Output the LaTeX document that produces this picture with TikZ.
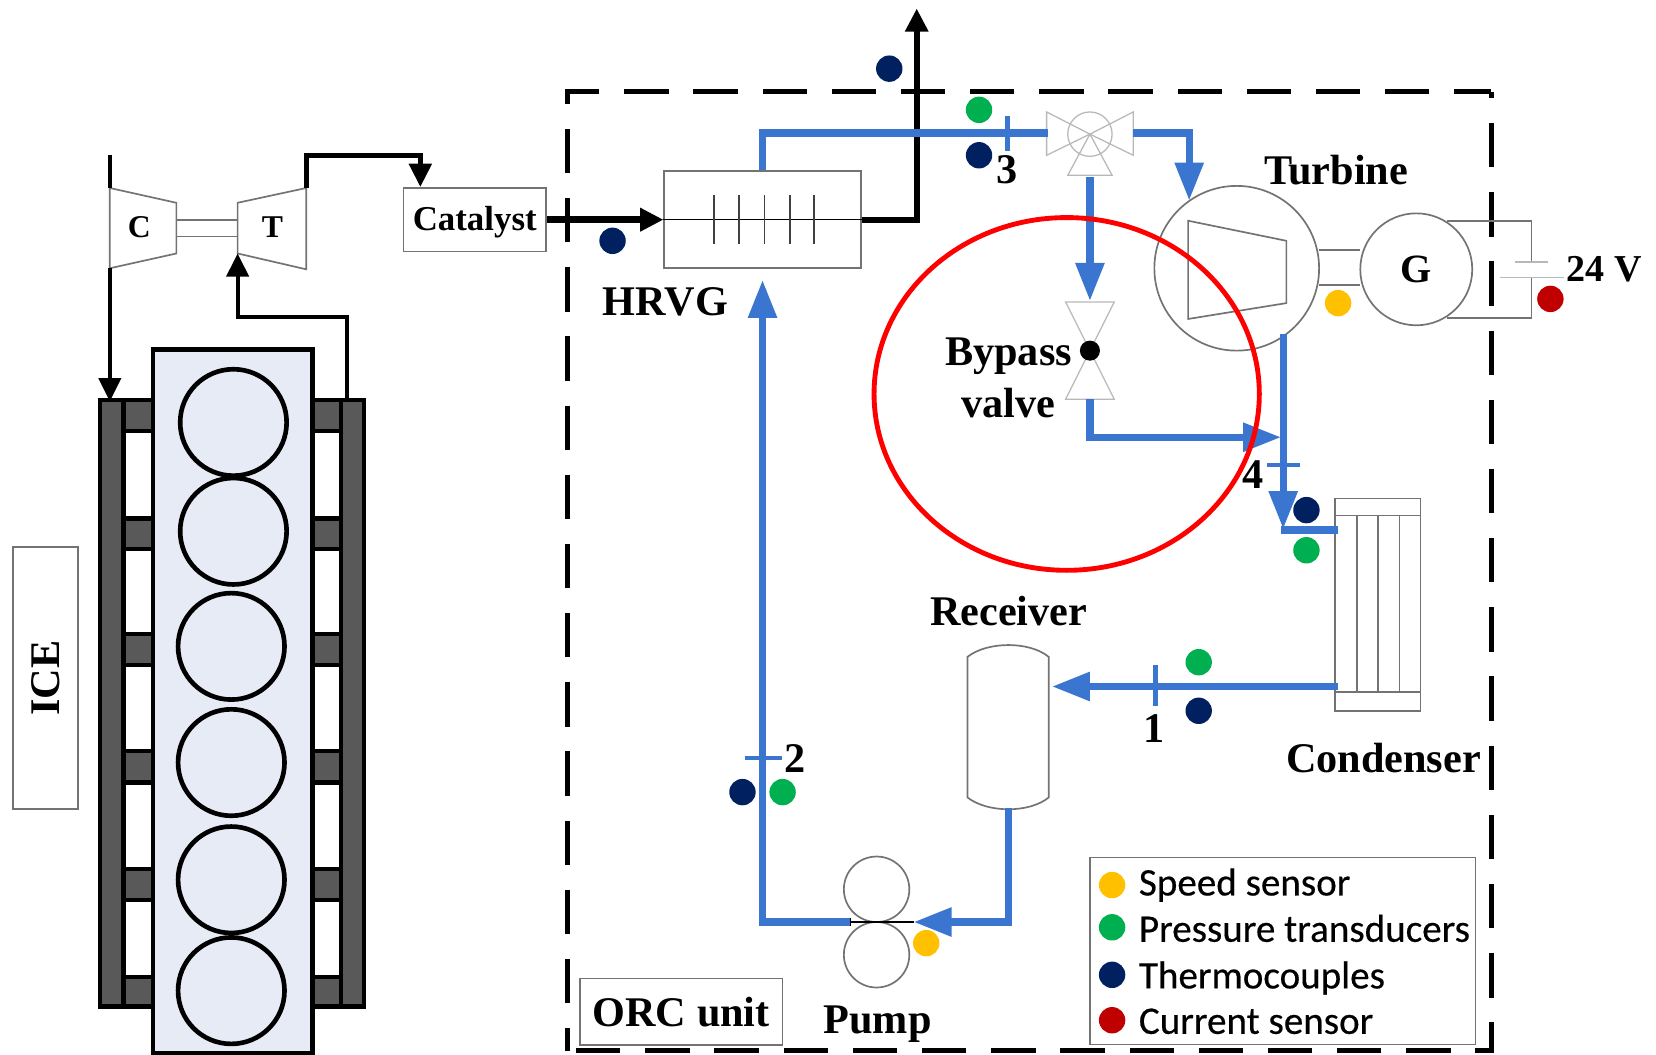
\documentclass[tikz,border=0pt]{standalone}
\usepackage{fontspec}
\setmainfont{Liberation Serif}
\newfontfamily\legendfont[FakeBold=0.4]{Carlito}
\usetikzlibrary{arrows.meta}
\definecolor{pipeblue}{HTML}{3A76D0}
\definecolor{bodyblue}{HTML}{E6EBF5}
\definecolor{railgray}{HTML}{595959}
\definecolor{speedcol}{HTML}{FFC000}
\definecolor{presscol}{HTML}{00B050}
\definecolor{thermocol}{HTML}{002060}
\definecolor{currentcol}{HTML}{C00000}
\tikzset{
  part/.style={draw=black!55, line width=0.8pt},
  faint/.style={draw=black!28, line width=0.6pt},
  box/.style={part, rectangle, minimum height=30pt},
  rail/.style={draw=black, fill=railgray, line width=2pt},
  flue/.style={draw=black, line width=3pt, -{Triangle[length=11pt,width=10.5pt]}},
  pipe/.style={draw=pipeblue, line width=3.5pt},
  flow/.style={pipe, -{Triangle[length=18pt,width=13pt]}},
  tick/.style={draw=pipeblue, line width=2pt},
  sensor/.style={circle, minimum size=12.5pt},
  orcline/.style={draw=black, line width=2.3pt},
}
\begin{document}
\begin{tikzpicture}[x=0.5pt, y=-0.5pt, every node/.style={inner sep=0pt, font=\bfseries\fontsize{20}{24}\selectfont}]
	\useasboundingbox (0,0) rectangle (1568,998);

	% Frame of the ORC unit
	\draw[orcline, dash pattern=on 21pt off 11.75pt, dash phase=3.5pt] (1412,87) -- (537,87) -- (537,995);
	\draw[orcline, dash pattern=on 21pt off 11.75pt, dash phase=18pt] (1412,87) -- (1412,995) -- (537,995);

	% Side rails of the engine
	\draw[rail] (95,379) rectangle (117,953);
	\draw[rail] (323,379) rectangle (345,953);

	% Blocks between rails and engine
	\draw[rail] (117,379) rectangle (145,408);
	\draw[rail] (117,491) rectangle (145,520);
	\draw[rail] (117,600) rectangle (145,630);
	\draw[rail] (117,711) rectangle (145,741);
	\draw[rail] (117,823) rectangle (145,852);
	\draw[rail] (117,925) rectangle (145,953);
	\draw[rail] (296,379) rectangle (323,408);
	\draw[rail] (296,491) rectangle (323,520);
	\draw[rail] (296,600) rectangle (323,630);
	\draw[rail] (296,711) rectangle (323,741);
	\draw[rail] (296,823) rectangle (323,852);
	\draw[rail] (296,925) rectangle (323,953);

	% Engine body and cylinders
	\draw[draw=black, fill=bodyblue, line width=2.2pt] (145,331) rectangle (296,997);
	\draw[line width=2.2pt] (221,400) circle (25.2pt);
	\draw[line width=2.2pt] (221,503) circle (25.2pt);
	\draw[line width=2.2pt] (219,612) circle (25.2pt);
	\draw[line width=2.2pt] (219,722) circle (25.2pt);
	\draw[line width=2.2pt] (219,833) circle (25.2pt);
	\draw[line width=2.2pt] (219,938) circle (25.2pt);
	\node[box, rotate=90, minimum width=124pt, minimum height=31pt] (ice) at (43,642) {ICE};

	% Compressor and turbine of the turbocharger
	\draw[part] (104,178) -- (167,192) -- (167,240) -- (104,254) -- cycle;
	\draw[part] (225,192) -- (290,178) -- (290,255) -- (225,240) -- cycle;
	\draw[part] (167,208) -- (225,208);
	\draw[part] (167,224) -- (225,224);
	\node[font=\bfseries\fontsize{15}{18}\selectfont] (clabel) at (132,215) {C};
	\node[font=\bfseries\fontsize{15}{18}\selectfont] (tlabel) at (258,215) {T};

	% Exhaust gas line
	\coordinate (airin) at (104,147);
	\coordinate (compin) at (104,178);
	\coordinate (compout) at (104,254);
	\coordinate (intake) at (104,380);
	\coordinate (engout) at (329,379);
	\coordinate (turbin) at (225,240);
	\coordinate (turbout) at (290,178);
	\coordinate (catin) at (398,177);
	\coordinate (gasstack) at (868,8);
	\node[box, minimum width=67.5pt, text depth=1pt] (catalyst) at (449.5,208) {\fontsize{16.5}{20}\selectfont Catalyst};
	\node[part, rectangle, minimum width=93pt, minimum height=46pt] (hrvg) at (722,208) {};
	\draw[line width=1.7pt] (airin) -- (compin);
	\draw[flue, line width=1.6pt] (compout) -- (intake);
	\draw[flue, line width=1.9pt] (engout) -- (329,300) -- (225,300) -- (turbin);
	\draw[flue, line width=2.2pt] (turbout) -- (290,147) -- (398,147) -- (catin);
	\draw[flue, line width=3.5pt] (catalyst.east) -- (hrvg.west);
	\draw[flue] (hrvg.east) -| (gasstack);

	% Inside of the HRVG
	\draw[draw=black, line width=0.5pt] (hrvg.west) -- (hrvg.east);
	\draw[draw=black!75, line width=0.8pt] (676,185) -- (676,231);
	\draw[draw=black!75, line width=0.8pt] (700,185) -- (700,231);
	\draw[draw=black!75, line width=0.8pt] (724,185) -- (724,231);
	\draw[draw=black!75, line width=0.8pt] (748,185) -- (748,231);
	\draw[draw=black!75, line width=0.8pt] (771,185) -- (771,231);
	\node (hrvglabel) at (630,286) {HRVG};

	% Three way valve
	\node[faint, circle, minimum size=21pt] (threeway) at (1032,127) {};
	\draw[faint] (1032,127) -- (991,106) -- (991,147) -- cycle;
	\draw[faint] (1032,127) -- (1073,106) -- (1073,147) -- cycle;
	\draw[faint] (1032,127) -- (1011,166) -- (1053,166) -- cycle;
	\coordinate (threewayl) at (992,126);
	\coordinate (threewayr) at (1073,126);
	\coordinate (threewayb) at (1032,168);

	% Turbine and generator
	\node[part, circle, minimum size=78pt] (turbine) at (1171,254) {};
	\draw[part] (1125,209) -- (1218,228) -- (1218,287) -- (1125,302) -- cycle;
	\node[part, circle, minimum size=53pt] (gen) at (1341,255) {\fontsize{19}{22}\selectfont G};
	\draw[part] (1249,237) -- (1288,237);
	\draw[part] (1249,270) -- (1288,270);
	\draw[part] (1370,209) -- (1450,209) -- (1450,248);
	\draw[part] (1450,263) -- (1450,301) -- (1370,301);
	\draw[faint] (1434,248) -- (1466,248);
	\draw[faint] (1420,263) -- (1481,263);
	\coordinate (turbinein) at (1126,190);
	\node (turbinelabel) at (1265,161) {Turbine};
	\node[font=\bfseries\fontsize{18}{22}\selectfont, anchor=west] (voltlabel) at (1483,255) {24 V};

	% Bypass valve
	\coordinate (bypassin) at (1032,285);
	\coordinate (bypassout) at (1032,378);
	\coordinate (junction) at (1213,414);
	\draw[faint] (1009,286) -- (1055,286) -- (1032,332) -- cycle;
	\draw[faint] (1009,378) -- (1055,378) -- (1032,332) -- cycle;
	\node[circle, fill=black, minimum size=9.5pt] (bypass) at (1032,332) {};
	\node (bypasslabel) at (955,337) {Bypass};
	\node (valvelabel) at (955,382) {valve};

	% Condenser
	\node[part, rectangle, minimum width=40.5pt, minimum height=100.5pt] (condenser) at (1304.5,572.5) {};
	\draw[part] (1264,488) -- (1345,488);
	\draw[part] (1264,655) -- (1345,655);
	\draw[part] (1285,488) -- (1285,655);
	\draw[part] (1305,488) -- (1305,655);
	\draw[part] (1325,488) -- (1325,655);
	\coordinate (turbineout) at (1215,316);
	\coordinate (condin) at (1215,501);
	\coordinate (headerl) at (1213,502);
	\coordinate (headerr) at (1267,502);
	\coordinate (condout) at (1267,650);
	\node (condenserlabel) at (1310,718) {Condenser};

	% Receiver
	\draw[part] (916,622) .. controls (935,607) and (975,607) .. (993,622) -- (993,755) .. controls (975,770) and (935,770) .. (916,755) -- cycle;
	\coordinate (recvin) at (996,650);
	\coordinate (recvout) at (955,765);
	\node (receiverlabel) at (955,579) {Receiver};

	% Pump
	\node[part, circle, minimum size=31pt] (pumpup) at (830,842) {};
	\node[part, circle, minimum size=31pt] (pumpdown) at (830,904) {};
	\coordinate (pumpin) at (865,873);
	\coordinate (pumpout) at (805,873);
	\draw[draw=black, line width=0.5pt] (pumpout) -- (pumpin);
	\draw[draw=black, line width=0.5pt] (805,869) -- (805,877);
	\node (pumplabel) at (831,970) {Pump};

	% Pipes of the working fluid
	\coordinate (hrvgin) at (722,265);
	\draw[pipe] (hrvg.north) |- (threewayl);
	\draw[flow] (threewayr) -| (turbinein);
	\draw[flow] (threewayb) -- (bypassin);
	\draw[flow] (bypassout) |- (junction);
	\draw[flow] (turbineout) -- (condin);
	\draw[pipe] (headerl) -- (headerr);
	\draw[flow] (condout) -- (recvin);
	\draw[flow] (recvout) |- (pumpin);
	\draw[flow] (pumpout) -| (hrvgin);

	% State points
	\draw[tick] (1094,630) -- (1094,668);
	\draw[tick] (705,718) -- (740,718);
	\draw[tick] (954,110) -- (954,143);
	\draw[tick] (1200,440) -- (1231,440);
	\node (stateone) at (1093,690) {1};
	\node (statetwo) at (753,718) {2};
	\node (statethree) at (954,161) {3};
	\node (statefour) at (1186,449) {4};

	% Sensors on the circuit
	\node[sensor, fill=thermocol] (tca) at (580,228) {};
	\node[sensor, fill=thermocol] (tcb) at (842,65) {};
	\node[sensor, fill=presscol] (pa) at (927,104) {};
	\node[sensor, fill=thermocol] (tcc) at (927,147) {};
	\node[sensor, fill=speedcol] (sa) at (1267,287) {};
	\node[sensor, fill=currentcol] (ca) at (1468,283) {};
	\node[sensor, fill=thermocol] (tcd) at (1237,483) {};
	\node[sensor, fill=presscol] (pb) at (1237,521) {};
	\node[sensor, fill=presscol] (pc) at (1135,627) {};
	\node[sensor, fill=thermocol] (tce) at (1135,673) {};
	\node[sensor, fill=thermocol] (tcf) at (703,750) {};
	\node[sensor, fill=presscol] (pd) at (741,750) {};
	\node[sensor, fill=speedcol] (sb) at (877,893) {};

	% ORC unit label
	\node[box, minimum width=96pt, minimum height=31.5pt] (orcunit) at (645,958) {ORC unit};

	% Legend
	\node[part, rectangle, minimum width=182.5pt, minimum height=88.5pt] (legend) at (1214.5,900.5) {};
	\node[sensor, fill=speedcol] (legspeed) at (1053,838) {};
	\node[sensor, fill=presscol] (legpress) at (1053,878) {};
	\node[sensor, fill=thermocol] (legthermo) at (1053,923) {};
	\node[sensor, fill=currentcol] (legcurrent) at (1053,966) {};
	\node[anchor=west, font=\legendfont\fontsize{18.5}{22}\selectfont] (txtspeed) at (1078,838) {Speed sensor};
	\node[anchor=west, font=\legendfont\fontsize{18.5}{22}\selectfont] (txtpress) at (1078,879) {Pressure transducers};
	\node[anchor=west, font=\legendfont\fontsize{18.5}{22}\selectfont] (txtthermo) at (1078,926) {Thermocouples};
	\node[anchor=west, font=\legendfont\fontsize{18.5}{22}\selectfont] (txtcurrent) at (1078,967) {Current sensor};

	% Red mark around the bypass valve
	\draw[draw=red, line width=2.3pt] (1010,373) ellipse (91.2pt and 83.5pt);

\end{tikzpicture}
\end{document}
